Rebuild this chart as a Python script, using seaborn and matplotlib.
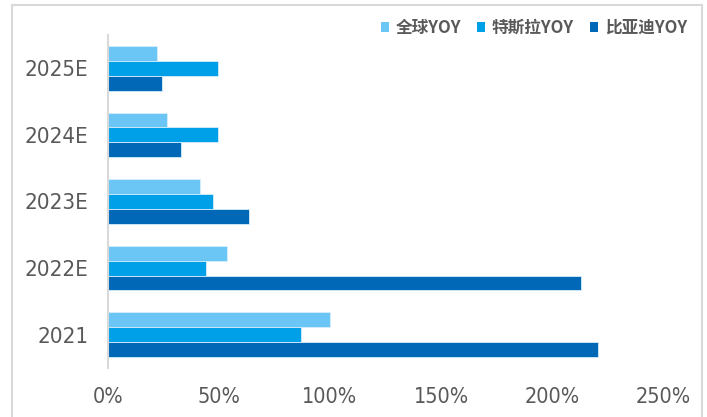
import matplotlib
matplotlib.use("Agg")
import matplotlib.pyplot as plt
from matplotlib.patches import Rectangle, Patch
import seaborn as sns
import pandas as pd

categories = ["2025E", "2024E", "2023E", "2022E", "2021"]
series_names = ["全球YOY", "特斯拉YOY", "比亚迪YOY"]
global_yoy = [22, 26.5, 41.5, 53.5, 100]
tesla_yoy = [49.5, 49.5, 47.5, 44, 87]
byd_yoy = [24.5, 33, 63.5, 213, 220.5]
xticks = [0, 50, 100, 150, 200, 250]
xtick_labels = ["0%", "50%", "100%", "150%", "200%", "250%"]
colors = ["#6CC6F5", "#00A0E9", "#0068B7"]

rows = []
for name, vals in zip(series_names, [global_yoy, tesla_yoy, byd_yoy]):
    for c, v in zip(categories, vals):
        rows.append({"year": c, "series": name, "value": v})
df = pd.DataFrame(rows)

sns.set_theme(style="white")
plt.rcParams['font.family'] = ['DejaVu Sans']
plt.rcParams['font.stretch'] = 'condensed'

fig = plt.figure(figsize=(7.07, 4.17), dpi=100)
ax = fig.add_axes([108/707, 1-368/417, (663-108)/707, (368-35)/417])

sns.barplot(data=df, x="value", y="year", hue="series", order=categories,
            hue_order=series_names, palette=colors, saturation=1, orient="h", width=0.67,
            edgecolor="#D6EEFB", linewidth=0.6, ax=ax, legend=False)

ax.set_xlim(0, 250)
ax.set_xticks(xticks)
ax.set_xticklabels(xtick_labels)
ax.set_xlabel("")
ax.set_ylabel("")
ax.tick_params(axis="x", length=0, pad=14, labelsize=15.5, labelcolor="#595959")
ax.tick_params(axis="y", length=0, pad=14, labelsize=16, labelcolor="#595959")
for lab in ax.get_xticklabels() + ax.get_yticklabels():
    lab.set_fontstretch("condensed")
for s in ["top", "right", "bottom"]:
    ax.spines[s].set_visible(False)
ax.spines["left"].set_color("#D9D9D9")
ax.spines["left"].set_linewidth(1.5)
ax.grid(False)

handles = [Patch(facecolor=c, edgecolor="none") for c in colors]
fig.legend(handles, series_names, loc="center right", bbox_to_anchor=(702/707, 1-28/417),
           ncol=3, frameon=False, handlelength=0.5, handleheight=0.5, handletextpad=0.4,
           columnspacing=0.95,
           prop={"family": ["Noto Sans CJK SC"], "weight": "bold", "size": 12},
           labelcolor="#595959")

fig.patches.append(Rectangle((12/707, -0.05), (702-12)/707, 1.05 - 5/417,
                             transform=fig.transFigure, fill=False,
                             edgecolor="#D9D9D9", linewidth=1.5))

fig.savefig("out.png", dpi=100)
